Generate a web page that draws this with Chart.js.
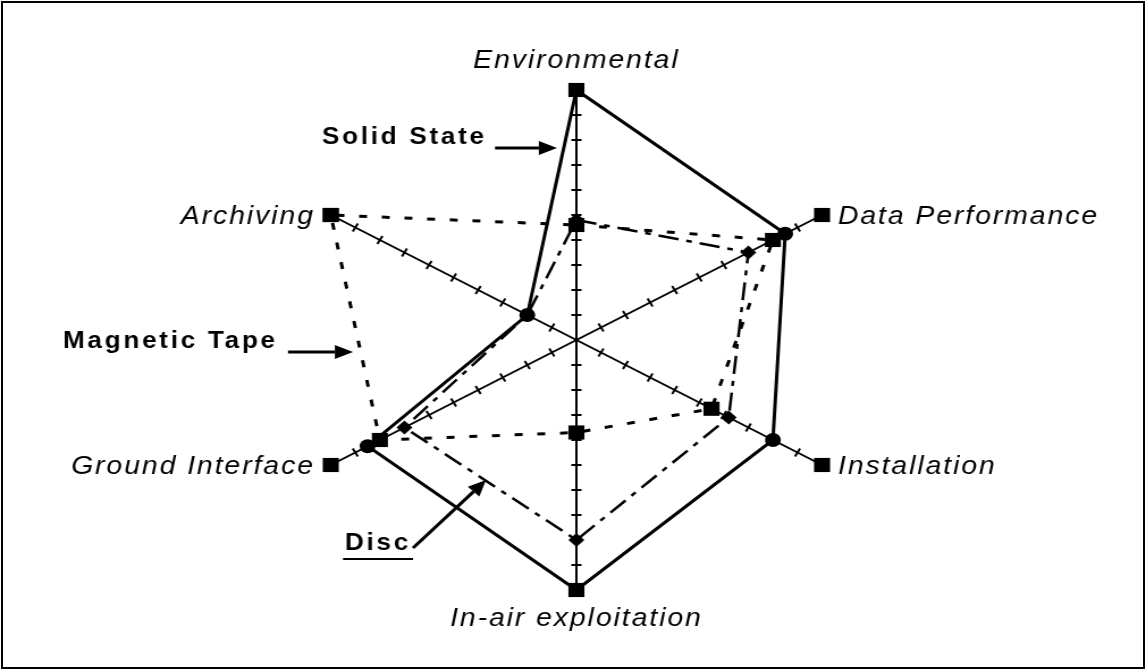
<!DOCTYPE html>
<html>
<head>
<meta charset="utf-8">
<script src="https://cdn.jsdelivr.net/npm/chart.js@4/dist/chart.umd.min.js"></script>
<style>
  body { margin: 0; background: #fff; }
  #frame { position: absolute; left: 1px; top: 1px; width: 1140px; height: 664px; border: 2px solid #000; }
  #wrap { position: absolute; left: 0; top: 0; width: 1010px; height: 671px; transform-origin: 0 0; }
</style>
</head>
<body>
<div id="frame"></div>
<div id="wrap"><canvas id="chart" width="1010" height="671"></canvas></div>
<script>
// axes, clockwise from the top
const labels = ['Environmental', 'Data Performance', 'Installation', 'In-air exploitation', 'Ground Interface', 'Archiving'];
const solidState = [10, 8.5, 8, 10, 8.5, 2];
const magneticTape = [4.6, 8, 5.5, 3.7, 8, 10];
const disc = [4.8, 7, 6.2, 8, 7, 2];
const axisEnds = [10, 10, 10, 10, 10, 10];
const scaleMin = 0;
const scaleMax = 10;

// the original figure is stretched sideways
const K = 1146 / 1010;
document.getElementById('wrap').style.transform = 'scaleX(' + K + ')';

const axisTicks = {
  id: 'axisTicks',
  beforeDatasetsDraw(chart) {
    const ctx = chart.ctx;
    const scale = chart.scales.r;
    ctx.save();
    ctx.strokeStyle = '#000';
    ctx.lineWidth = 2;
    labels.forEach((_, i) => {
      const end = scale.getPointPosition(i, scale.drawingArea);
      const ang = Math.atan2(end.y - scale.yCenter, end.x - scale.xCenter);
      const nx = -Math.sin(ang), ny = Math.cos(ang);
      scale.ticks.forEach(t => {
        if (t.value <= scaleMin || t.value >= scaleMax) return;
        const p = scale.getPointPosition(i, scale.getDistanceFromCenterForValue(t.value));
        ctx.beginPath();
        ctx.moveTo(p.x - nx * 4.5, p.y - ny * 4.5);
        ctx.lineTo(p.x + nx * 4.5, p.y + ny * 4.5);
        ctx.stroke();
      });
    });
    ctx.restore();
  }
};

const axisLabels = {
  id: 'axisLabels',
  afterDraw(chart) {
    const ctx = chart.ctx;
    const scale = chart.scales.r;
    ctx.save();
    ctx.fillStyle = '#000';
    ctx.font = 'italic 25px "Liberation Sans", Arial, sans-serif';
    ctx.letterSpacing = '1.7px';
    ctx.textBaseline = 'alphabetic';
    labels.forEach((name, i) => {
      const p = scale.getPointPosition(i, scale.drawingArea);
      const dx = p.x - scale.xCenter;
      if (Math.abs(dx) < 1) {
        ctx.textAlign = 'center';
        const y = p.y < scale.yCenter ? p.y - 22 : p.y + 36;
        ctx.fillText(name, p.x, y);
      } else if (dx > 0) {
        ctx.textAlign = 'left';
        ctx.fillText(name, p.x + 14, p.y + 9);
      } else {
        ctx.textAlign = 'right';
        ctx.fillText(name, p.x - 14, p.y + 9);
      }
    });
    ctx.restore();
  }
};

function arrow(ctx, x1, y1, x2, y2) {
  x1 /= K; x2 /= K;
  const ang = Math.atan2(y2 - y1, x2 - x1);
  const len = 16, half = 7;
  const bx = x2 - Math.cos(ang) * len, by = y2 - Math.sin(ang) * len;
  ctx.beginPath();
  ctx.moveTo(x1, y1);
  ctx.lineTo(bx, by);
  ctx.stroke();
  ctx.beginPath();
  ctx.moveTo(x2, y2);
  ctx.lineTo(bx - Math.sin(ang) * half, by + Math.cos(ang) * half);
  ctx.lineTo(bx + Math.sin(ang) * half, by - Math.cos(ang) * half);
  ctx.closePath();
  ctx.fill();
}

const seriesNotes = {
  id: 'seriesNotes',
  afterDraw(chart) {
    const ctx = chart.ctx;
    ctx.save();
    ctx.fillStyle = '#000';
    ctx.strokeStyle = '#000';
    ctx.lineWidth = 3;
    ctx.font = 'bold 23px "Liberation Sans", Arial, sans-serif';
    ctx.letterSpacing = '2.4px';
    ctx.textAlign = 'left';
    ctx.textBaseline = 'alphabetic';
    ctx.fillText('Solid State', 322 / K, 144);
    arrow(ctx, 495, 148, 557, 148);
    ctx.fillText('Magnetic Tape', 63 / K, 348);
    arrow(ctx, 288, 352, 353, 352);
    ctx.fillText('Disc', 345 / K, 550);
    ctx.lineWidth = 2;
    ctx.beginPath();
    ctx.moveTo(343 / K, 559);
    ctx.lineTo(413 / K, 559);
    ctx.stroke();
    ctx.lineWidth = 3;
    arrow(ctx, 413, 548, 486, 480);
    ctx.restore();
  }
};

new Chart(document.getElementById('chart'), {
  type: 'radar',
  data: {
    labels: labels,
    datasets: [
      {
        label: 'Axis ends',
        data: axisEnds,
        showLine: false,
        fill: false,
        backgroundColor: 'transparent',
        borderColor: 'transparent',
        borderWidth: 0,
        pointStyle: 'rect',
        pointRadius: 10,
        pointBackgroundColor: '#000',
        pointBorderColor: '#000',
        pointBorderWidth: 0
      },
      {
        label: 'Magnetic Tape',
        data: magneticTape,
        fill: false,
        backgroundColor: 'transparent',
        borderColor: '#000',
        borderWidth: 3,
        borderDash: [7, 13],
        pointStyle: 'rect',
        pointRadius: 10,
        pointBackgroundColor: '#000',
        pointBorderColor: '#000',
        pointBorderWidth: 0
      },
      {
        label: 'Solid State',
        data: solidState,
        fill: false,
        backgroundColor: 'transparent',
        borderColor: '#000',
        borderWidth: 3,
        pointStyle: 'circle',
        pointRadius: 7,
        pointBackgroundColor: '#000',
        pointBorderColor: '#000',
        pointBorderWidth: 0
      },
      {
        label: 'Disc',
        data: disc,
        fill: false,
        backgroundColor: 'transparent',
        borderColor: '#000',
        borderWidth: 2.5,
        borderDash: [18, 7, 5, 7],
        pointStyle: 'rectRot',
        pointRadius: 7,
        pointBackgroundColor: '#000',
        pointBorderColor: '#000',
        pointBorderWidth: 0
      }
    ]
  },
  options: {
    responsive: false,
    animation: false,
    events: [],
    layout: { padding: { left: 258, right: 251, top: 90, bottom: 81 } },
    elements: { line: { tension: 0 } },
    plugins: { legend: { display: false }, tooltip: { enabled: false } },
    scales: {
      r: {
        min: scaleMin,
        max: scaleMax,
        ticks: { display: false, stepSize: 1 },
        grid: { display: false },
        angleLines: { display: true, color: '#000', lineWidth: 2 },
        pointLabels: { display: false }
      }
    }
  },
  plugins: [axisTicks, axisLabels, seriesNotes]
});
</script>
</body>
</html>
